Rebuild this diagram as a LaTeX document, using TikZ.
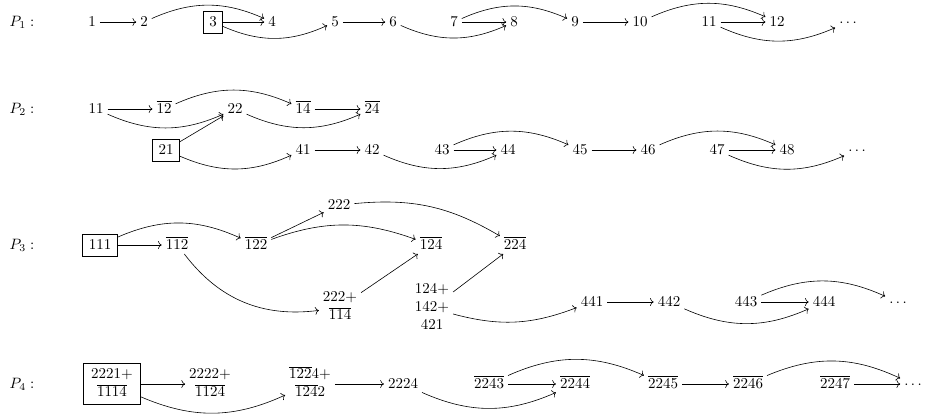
\documentclass[tikz,border=0pt]{standalone}
\usetikzlibrary{arrows.meta,cd}
\begin{document}
\begin{tikzpicture}[x=0.6667pt,y=0.6667pt,
  cell/.style={inner xsep=2.5pt, inner ysep=2pt, text height=1.5ex, text depth=0.25ex},
  multi/.style={inner xsep=2.5pt, inner ysep=2pt},
  boxed/.style={draw, line width=0.4pt, inner xsep=4pt, inner ysep=3.6pt},
  bigbox/.style={draw, line width=0.4pt, inner xsep=5pt, inner ysep=1.7pt},
  arr/.style={-{cm to}, line width=0.4pt},
  bl/.style={arr, bend left=24},
  br/.style={arr, bend right=24}]
\useasboundingbox (0,0) rectangle (926,-416);
% ---------- P1 ----------
\node[cell] (p1) at (22,-22) {$P_1 :$};
\node[cell] (a1) at (92,-22) {$1$};
\node[cell] (a2) at (144,-22) {$2$};
\node[cell,boxed] (a3) at (213,-22) {$3$};
\node[cell] (a4) at (272,-22) {$4$};
\node[cell] (a5) at (335,-22) {$5$};
\node[cell] (a6) at (393,-22) {$6$};
\node[cell] (a7) at (454,-22) {$7$};
\node[cell] (a8) at (514,-22) {$8$};
\node[cell] (a9) at (575,-22) {$9$};
\node[cell] (a10) at (640,-22) {$10$};
\node[cell] (a11) at (709,-22) {$11$};
\node[cell] (a12) at (777,-22) {$12$};
\node[cell] (ad) at (848,-22) {$\cdots$};
\draw[arr] (a1) -- (a2);
\draw[bl] (a2) to (a4);
\draw[arr] (a3) -- (a4);
\draw[br] (a3) to (a5);
\draw[arr] (a5) -- (a6);
\draw[br] (a6) to (a8);
\draw[arr] (a7) -- (a8);
\draw[bl] (a7) to (a9);
\draw[arr] (a9) -- (a10);
\draw[bl] (a10) to (a12);
\draw[arr] (a11) -- (a12);
\draw[br] (a11) to (ad);
% ---------- P2 ----------
\node[cell] (p2) at (22,-109) {$P_2 :$};
\node[cell] (b11) at (96,-109) {$11$};
\node[cell] (b12) at (164,-109) {$\overline{12}$};
\node[cell] (b22) at (235,-109) {$22$};
\node[cell] (b14) at (303,-109) {$\overline{14}$};
\node[cell] (b24) at (372,-109) {$\overline{24}$};
\node[cell,boxed] (b21) at (166,-150) {$21$};
\node[cell] (b41) at (303,-150) {$41$};
\node[cell] (b42) at (372,-150) {$42$};
\node[cell] (b43) at (442,-150) {$43$};
\node[cell] (b44) at (508,-150) {$44$};
\node[cell] (b45) at (580,-150) {$45$};
\node[cell] (b46) at (648,-150) {$46$};
\node[cell] (b47) at (717,-150) {$47$};
\node[cell] (b48) at (787,-150) {$48$};
\node[cell] (bd) at (857,-150) {$\cdots$};
\draw[arr] (b11) -- (b12);
\draw[br] (b11) to (b22);
\draw[bl] (b12) to (b14);
\draw[br] (b22) to (b24);
\draw[arr] (b14) -- (b24);
\draw[arr] (b21) -- (b22);
\draw[br] (b21) to (b41);
\draw[arr] (b41) -- (b42);
\draw[br] (b42) to (b44);
\draw[arr] (b43) -- (b44);
\draw[bl] (b43) to (b45);
\draw[arr] (b45) -- (b46);
\draw[bl] (b46) to (b48);
\draw[arr] (b47) -- (b48);
\draw[br] (b47) to (bd);
% ---------- P3 ----------
\node[cell] (p3) at (22,-245) {$P_3 :$};
\node[cell,boxed] (c111) at (100,-245) {$111$};
\node[cell] (c112) at (177,-245) {$\overline{112}$};
\node[cell] (c122) at (256,-245) {$\overline{122}$};
\node[cell] (c222) at (339,-205) {$222$};
\node[cell] (c124) at (431,-245) {$\overline{124}$};
\node[cell] (c224) at (515,-245) {$\overline{224}$};
\node[multi] (cm1) at (340,-307) {$\begin{array}{@{}c@{}}222+\\\overline{114}\end{array}$};
\node[multi] (cm2) at (432,-308) {$\begin{array}{@{}c@{}}124+\\142+\\421\end{array}$};
\node[cell] (c441) at (592,-302) {$441$};
\node[cell] (c442) at (669,-302) {$442$};
\node[cell] (c443) at (746,-302) {$443$};
\node[cell] (c444) at (824,-302) {$444$};
\node[cell] (cd) at (898,-302) {$\cdots$};
\draw[arr] (c111) -- (c112);
\draw[bl] (c111) to (c122);
\draw[arr,bend right=30] (c112) to (cm1);
\draw[arr] (c122) -- (c222);
\draw[arr,bend left=20] (c122) to (c124);
\draw[arr,bend left=18] (c222) to (c224);
\draw[arr] (cm1) -- (c124);
\draw[arr] (cm2) -- (c224);
\draw[arr,bend right=18] (cm2) to (c441);
\draw[arr] (c441) -- (c442);
\draw[br] (c442) to (c444);
\draw[arr] (c443) -- (c444);
\draw[bl] (c443) to (cd);
% ---------- P4 ----------
\node[cell] (p4) at (22,-384) {$P_4 :$};
\node[bigbox] (d1) at (112,-384) {$\begin{array}{@{}c@{}}2221+\\\overline{1114}\end{array}$};
\node[multi] (d2) at (210,-384) {$\begin{array}{@{}c@{}}2222+\\\overline{1124}\end{array}$};
\node[multi] (d3) at (310,-384) {$\begin{array}{@{}c@{}}\overline{122}4+\\\overline{124}2\end{array}$};
\node[cell] (d4) at (403,-384) {$2224$};
\node[cell] (d5) at (489,-384) {$\overline{2243}$};
\node[cell] (d6) at (575,-384) {$\overline{2244}$};
\node[cell] (d7) at (663,-384) {$\overline{2245}$};
\node[cell] (d8) at (748,-384) {$\overline{2246}$};
\node[cell] (d9) at (835,-384) {$\overline{2247}$};
\node[cell] (dd) at (913,-384) {$\cdots$};
\draw[arr] (d1) -- (d2);
\draw[br] (d1) to (d3);
\draw[arr] (d3) -- (d4);
\draw[br] (d4) to (d6);
\draw[arr] (d5) -- (d6);
\draw[bl] (d5) to (d7);
\draw[arr] (d7) -- (d8);
\draw[bl] (d8) to (dd);
\draw[arr] (d9) -- (dd);
\end{tikzpicture}
\end{document}
